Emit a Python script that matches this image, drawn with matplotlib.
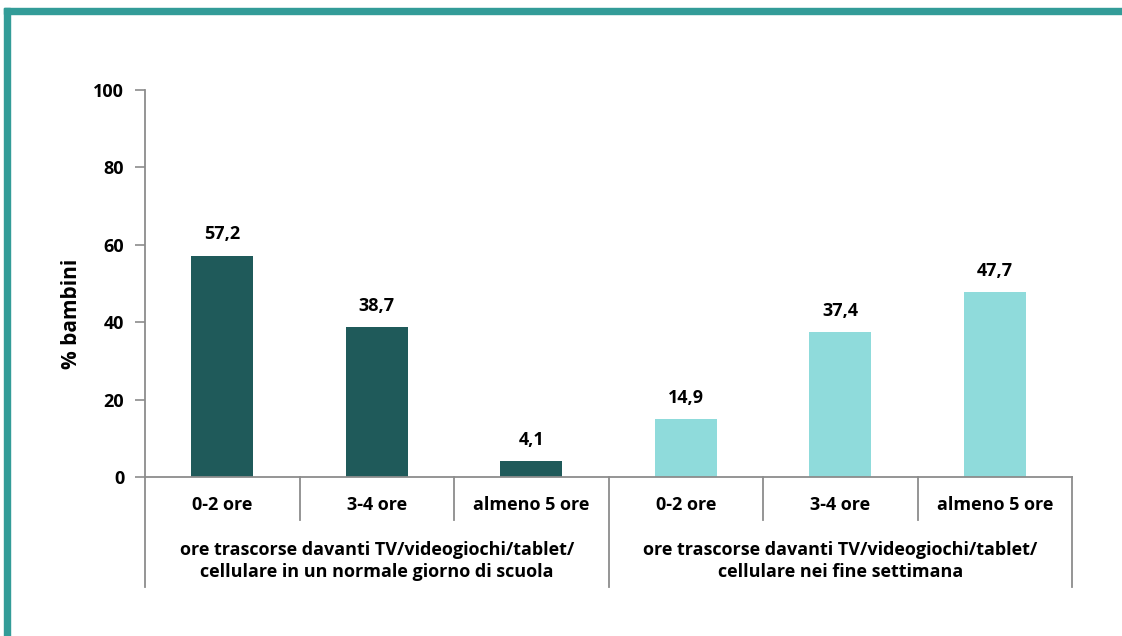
import numpy as np
import matplotlib.pyplot as plt
from matplotlib.patches import Rectangle
import matplotlib.transforms as mtransforms

plt.rcParams['font.family'] = ['Open Sans', 'DejaVu Sans']

# data
categories = ["0-2 ore", "3-4 ore", "almeno 5 ore", "0-2 ore", "3-4 ore", "almeno 5 ore"]
values = [57.2, 38.7, 4.1, 14.9, 37.4, 47.7]
value_labels = ["57,2", "38,7", "4,1", "14,9", "37,4", "47,7"]
groups = ["ore trascorse davanti TV/videogiochi/tablet/\ncellulare in un normale giorno di scuola",
          "ore trascorse davanti TV/videogiochi/tablet/\ncellulare nei fine settimana"]
yticks = [0, 20, 40, 60, 80, 100]

dark = "#1f5a5a"
light = "#8fdbdb"
axis_grey = "#8c8c8c"
colors = [dark] * 3 + [light] * 3

fig = plt.figure(figsize=(11.22, 6.36), dpi=100)
ax = fig.add_axes([145/1122, 159/636, (1072-145)/1122, (477-90)/636])

x = np.arange(len(categories))
ax.bar(x, values, width=0.4, color=colors)
for xi, v, lab in zip(x, values, value_labels):
    ax.annotate(lab, (xi, v), xytext=(0, 9), textcoords="offset points",
                ha="center", va="bottom", fontsize=13, fontweight="bold")

ax.set_xlim(-0.5, 5.5)
ax.set_ylim(0, 100)
ax.set_yticks(yticks)
ax.set_yticklabels([str(t) for t in yticks], fontsize=13, fontweight="bold")
ax.tick_params(axis="y", direction="out", length=7, color=axis_grey, width=1.2, pad=8)
ax.set_xticks([])
ax.set_ylabel("% bambini", fontsize=15, fontweight="bold")
ax.yaxis.set_label_coords(-0.068, 0.421)

for s in ["top", "right"]:
    ax.spines[s].set_visible(False)
for s in ["left", "bottom"]:
    ax.spines[s].set_color(axis_grey)
    ax.spines[s].set_linewidth(1.3)

# multi-level category axis
trans = mtransforms.blended_transform_factory(ax.transData, ax.transAxes)
for b in [0.5, 1.5, 3.5, 4.5]:
    ax.plot([b, b], [0, -0.111], color=axis_grey, lw=1.3, transform=trans, clip_on=False)
for b in [-0.5, 2.5, 5.5]:
    ax.plot([b, b], [0, -0.284], color=axis_grey, lw=1.3, transform=trans, clip_on=False)
for xi, c in zip(x, categories):
    ax.text(xi, -0.072, c, transform=trans, ha="center", va="center",
            fontsize=13, fontweight="bold")
for gi, g in enumerate(groups):
    ax.text(gi * 3 + 1, -0.217, g, transform=trans, ha="center", va="center",
            fontsize=13, fontweight="bold", linespacing=1.35)

# teal frame
teal = "#339c98"
fig.patches.append(Rectangle((4/1122, 0), 6/1122, (636-8)/636, transform=fig.transFigure,
                             color=teal, zorder=0))
fig.patches.append(Rectangle((4/1122, (636-14)/636), 1 - 4/1122, 6/636, transform=fig.transFigure,
                             color=teal, zorder=0))

fig.savefig("out.png", dpi=100)
